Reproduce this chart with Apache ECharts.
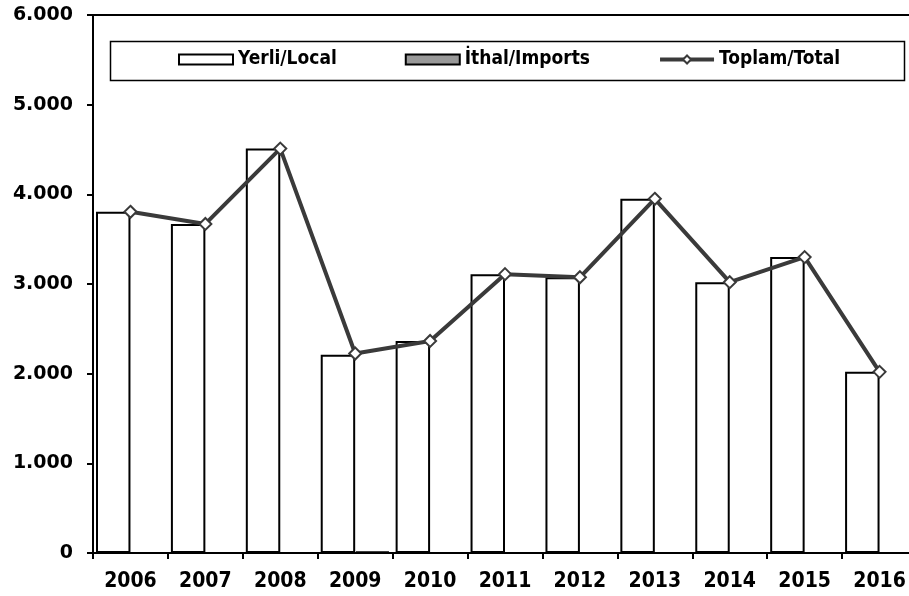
<!DOCTYPE html>
<html><head><meta charset="utf-8">
<script src="https://cdn.jsdelivr.net/npm/echarts@6/dist/echarts.min.js"></script>
<style>html,body{margin:0;padding:0;background:#fff}#c{width:909px;height:596px}</style>
</head><body><div id="c"></div>
<script>
var years = ['2006','2007','2008','2009','2010','2011','2012','2013','2014','2015','2016'];
var local = [3805, 3670, 4510, 2210, 2365, 3110, 3075, 3950, 3020, 3300, 2020];
var imports = [0, 0, 0, 15, 0, 0, 0, 0, 0, 0, 0];
var total = [3805, 3670, 4510, 2225, 2365, 3110, 3075, 3950, 3020, 3300, 2020];
var yTicks = [0, 1000, 2000, 3000, 4000, 5000, 6000];

var chart = echarts.init(document.getElementById('c'));
chart.setOption({
  animation: false,
  backgroundColor: '#fff',
  grid: {left: 93, width: 824, top: 15, height: 538, show: true, borderColor: '#000', borderWidth: 2,
         backgroundColor: 'transparent', outerBoundsMode: 'none', containLabel: false},
  graphic: [{type: 'rect', left: 108, top: 39, shape: {width: 794, height: 39}, style: {fill: 'none', stroke: '#000', lineWidth: 1.5}, z: 0}],
  legend: {
    top: 50, left: 178, padding: 0, itemWidth: 54, itemHeight: 10, itemGap: 68,
    textStyle: {fontFamily: 'DejaVu Sans Condensed', fontWeight: 'bold', fontSize: 19, color: '#000'},
    data: [
      {name: 'Yerli/Local', icon: 'rect'},
      {name: 'İthal/Imports', icon: 'rect'},
      {name: 'Toplam/Total', lineStyle: {width: 4, color: '#3a3a3a'}, itemStyle: {color: '#fff', borderColor: '#3a3a3a', borderWidth: 2}}
    ]
  },
  xAxis: {
    type: 'category', data: years,
    axisLine: {lineStyle: {color: '#000', width: 2}},
    axisTick: {show: true, length: 6, lineStyle: {color: '#000', width: 2}},
    axisLabel: {fontFamily: 'DejaVu Sans Condensed', fontWeight: 'bold', fontSize: 21, color: '#000', margin: 18}
  },
  yAxis: {
    type: 'value', min: 0, max: 6000, interval: 1000,
    splitLine: {show: false},
    axisLine: {show: true, lineStyle: {color: '#000', width: 2}},
    axisTick: {show: true, length: 6, lineStyle: {color: '#000', width: 2}},
    axisLabel: {fontFamily: 'DejaVu Sans', fontWeight: 'bold', fontSize: 19, color: '#000', margin: 20,
      formatter: function (v) { return yTicks.indexOf(v) < 0 ? '' : (v === 0 ? '0' : v.toLocaleString('de-DE')); }}
  },
  series: [
    {name: 'Yerli/Local', type: 'bar', data: local, barGap: '0%', barCategoryGap: '8%',
     itemStyle: {color: '#fff', borderColor: '#000', borderWidth: 2}},
    {name: 'İthal/Imports', type: 'bar', data: imports,
     itemStyle: {color: '#999', borderColor: '#000', borderWidth: 2}},
    {name: 'Toplam/Total', type: 'line', data: total, z: 5,
     symbol: 'diamond', symbolSize: 12, showAllSymbol: true,
     lineStyle: {color: '#3a3a3a', width: 4},
     itemStyle: {color: '#fff', borderColor: '#3a3a3a', borderWidth: 2}}
  ]
});
</script></body></html>
